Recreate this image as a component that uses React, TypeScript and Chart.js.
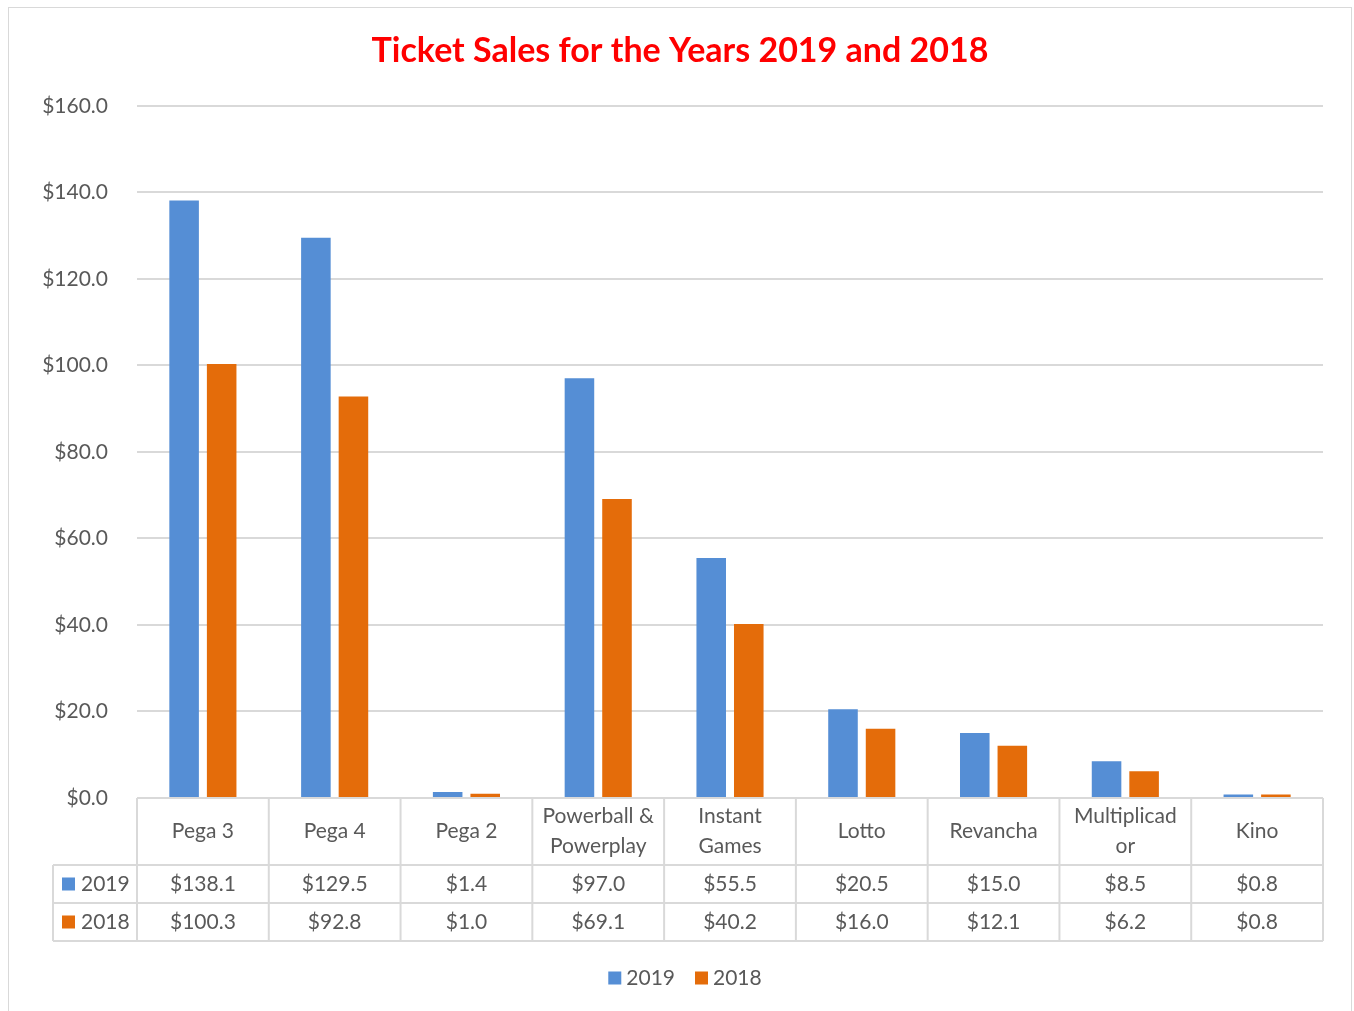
import React, { useEffect, useRef } from "react";
import { Chart, registerables } from "chart.js";

Chart.register(...registerables);

const TITLE = "Ticket Sales for the Years 2019 and 2018";
const categories = [
  "Pega 3",
  "Pega 4",
  "Pega 2",
  "Powerball &\nPowerplay",
  "Instant\nGames",
  "Lotto",
  "Revancha",
  "Multiplicad\nor",
  "Kino",
];
const seriesNames = ["2019", "2018"];
const sales2019 = [138.1, 129.5, 1.4, 97.0, 55.5, 20.5, 15.0, 8.5, 0.8];
const sales2018 = [100.3, 92.8, 1.0, 69.1, 40.2, 16.0, 12.1, 6.2, 0.8];
const yMin = 0;
const yMax = 160;
const yStep = 20;

const BLUE = "#558ED5";
const ORANGE = "#E46C0A";
const GRID = "#d9d9d9";
const TEXT = "#595959";
const FONT = "Lato";

const fmt = (v: number) => "$" + v.toFixed(1);

const tablePlugin = {
  id: "dataTable",
  afterDraw(chart: any) {
    const ctx = chart.ctx as CanvasRenderingContext2D;
    const xs = chart.scales.x;
    const ca = chart.chartArea;
    const n = categories.length;
    const w = (ca.right - ca.left) / n;
    const headerH = 67;
    const rowH = 38;
    const top = ca.bottom;
    const r1 = top + headerH;
    const r2 = r1 + rowH;
    const r3 = r2 + rowH;
    const leftEdge = ca.left - 84;
    const colors = [BLUE, ORANGE];

    ctx.save();
    ctx.strokeStyle = GRID;
    ctx.lineWidth = 2;
    ctx.beginPath();
    ctx.moveTo(ca.left, top);
    ctx.lineTo(ca.right, top);
    [r1, r2, r3].forEach((y) => {
      ctx.moveTo(leftEdge, y);
      ctx.lineTo(ca.right, y);
    });
    ctx.moveTo(leftEdge, r1);
    ctx.lineTo(leftEdge, r3);
    for (let i = 0; i <= n; i++) {
      const x = i < n ? xs.getPixelForValue(i) - w / 2 : xs.getPixelForValue(n - 1) + w / 2;
      ctx.moveTo(x, top);
      ctx.lineTo(x, r3);
    }
    ctx.stroke();

    ctx.fillStyle = TEXT;
    ctx.font = `21px ${FONT}`;
    ctx.textAlign = "center";
    ctx.textBaseline = "middle";
    categories.forEach((c, i) => {
      const x = xs.getPixelForValue(i);
      const lines = c.split("\n");
      const lh = 30;
      const cy = (top + r1) / 2;
      lines.forEach((ln, k) => {
        ctx.fillText(ln, x, cy + (k - (lines.length - 1) / 2) * lh);
      });
      ctx.fillText(fmt(sales2019[i]), x, (r1 + r2) / 2);
      ctx.fillText(fmt(sales2018[i]), x, (r2 + r3) / 2);
    });

    // row headers
    const rows = [(r1 + r2) / 2, (r2 + r3) / 2];
    ctx.textAlign = "left";
    rows.forEach((cy, k) => {
      ctx.fillStyle = colors[k];
      ctx.fillRect(leftEdge + 9, cy - 6.5, 13, 13);
      ctx.fillStyle = TEXT;
      ctx.fillText(seriesNames[k], leftEdge + 28, cy);
    });

    // legend
    const box = 13;
    const gap = 5;
    const spacing = 20;
    const widths = seriesNames.map((s) => box + gap + ctx.measureText(s).width);
    const total = widths.reduce((a, b) => a + b, 0) + spacing * (widths.length - 1);
    let lx = chart.width / 2 - total / 2 + 5;
    const ly = r3 + 37;
    seriesNames.forEach((s, k) => {
      ctx.fillStyle = colors[k];
      ctx.fillRect(lx, ly - box / 2, box, box);
      ctx.fillStyle = TEXT;
      ctx.fillText(s, lx + box + gap, ly);
      lx += widths[k] + spacing;
    });
    ctx.restore();
  },
};

export default function App() {
  const ref = useRef<HTMLCanvasElement | null>(null);
  useEffect(() => {
    if (!ref.current) return;
    const chart = new Chart(ref.current, {
      type: "bar",
      data: {
        labels: categories,
        datasets: [
          { label: seriesNames[0], data: sales2019, backgroundColor: BLUE, categoryPercentage: 0.57, barPercentage: 0.787 },
          { label: seriesNames[1], data: sales2018, backgroundColor: ORANGE, categoryPercentage: 0.57, barPercentage: 0.787 },
        ],
      },
      options: {
        animation: false,
        responsive: false,
        devicePixelRatio: 1,
        layout: { padding: { left: 28, right: 28, top: 0, bottom: 53 } },
        plugins: {
          title: {
            display: true,
            text: TITLE,
            color: "#FF0000",
            font: { family: FONT, size: 34, weight: "bold" },
            padding: { top: 23, bottom: 34 },
          },
          legend: { display: false },
          tooltip: { enabled: false },
        },
        scales: {
          x: {
            grid: { display: false },
            border: { display: false },
            ticks: { display: false },
            afterFit: (s: any) => {
              s.height = 160;
            },
          },
          y: {
            min: yMin,
            max: yMax,
            ticks: {
              stepSize: yStep,
              color: TEXT,
              font: { family: FONT, size: 21 },
              padding: 29,
              callback: (v: any) => fmt(Number(v)),
            },
            grid: { color: GRID, lineWidth: 2, drawTicks: false },
            border: { display: false },
            afterFit: (s: any) => {
              s.width = 100;
            },
          },
        },
      },
      plugins: [tablePlugin],
    });
    return () => chart.destroy();
  }, []);

  return (
    <div style={{ position: "fixed", left: 0, top: 0, width: 1354, height: 1011, overflow: "hidden", background: "#fff" }}>
      <div
        style={{
          position: "absolute",
          left: 8,
          top: 7,
          width: 1342,
          height: 1020,
          border: "1px solid #d9d9d9",
          background: "#fff",
        }}
      >
        <canvas ref={ref} width={1342} height={1003} style={{ display: "block" }} />
      </div>
    </div>
  );
}
